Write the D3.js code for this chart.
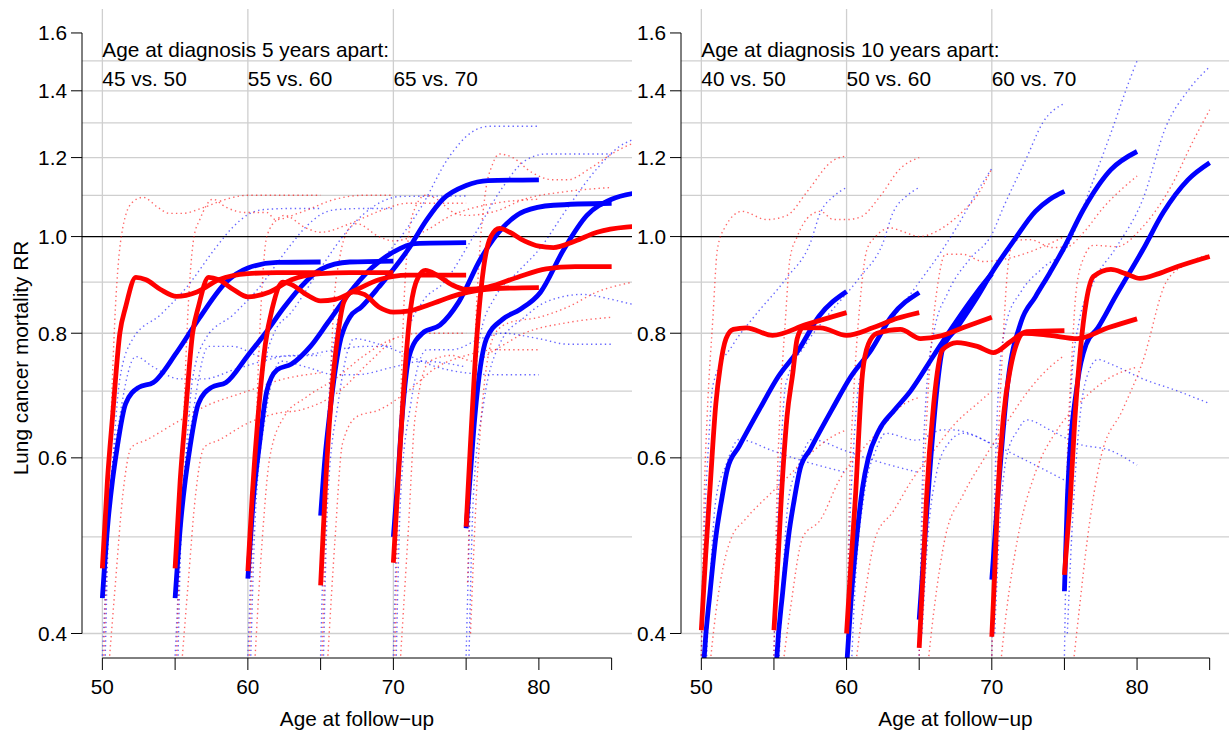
<!DOCTYPE html>
<html><head><meta charset="utf-8">
<script src="https://cdn.jsdelivr.net/npm/d3@7"></script>
<style>body{margin:0;background:#fff}svg text{font-family:"Liberation Sans",Arial,Helvetica,sans-serif;fill:#000}</style>
</head><body><svg id="c" width="1229" height="733"></svg>
<script>
// ---------- axes / labels ----------
const xTicks = [50,55,60,65,70,75,80,85];
const xLabels = [50,60,70,80];
const yTicks = [0.4,0.6,0.8,1.0,1.2,1.4,1.6];
const yGrid = [0.4,0.5,0.6,0.7,0.8,0.9,1.1,1.2,1.3,1.4,1.5];
const xGrid = [50,60,70];
const panelTitles = ["Age at diagnosis 5 years apart:","Age at diagnosis 10 years apart:"];
const compLabels5 = ["45 vs. 50","55 vs. 60","65 vs. 70"];
const compLabels10 = ["40 vs. 50","50 vs. 60","60 vs. 70"];
const compAges = [50,60,70];
const xTitle = "Age at follow\u2212up";
const yTitle = "Lung cancer mortality RR";

// ---------- panel 1 (5 years apart): estimates ----------
const blue5 = [
 [[50,0.434],[50.4,0.52],[50.7,0.57],[51.0,0.612],[51.6,0.68],[52.5,0.706],[53.5,0.714],[55.1,0.765],[56.7,0.83],[58.5,0.90],[60,0.93],[62,0.942],[65,0.943]],
 [[55,0.434],[55.4,0.52],[55.7,0.57],[56.0,0.612],[56.6,0.68],[57.5,0.706],[58.5,0.714],[60,0.76],[61.2,0.80],[62.5,0.85],[63.6,0.889],[65,0.927],[67,0.943],[70,0.945]],
 [[60,0.454],[60.4,0.55],[60.8,0.62],[61.3,0.70],[62,0.735],[63,0.745],[64.3,0.776],[65.5,0.82],[67,0.879],[68.5,0.93],[70,0.965],[71.5,0.984],[75,0.986]],
 [[65,0.525],[65.3,0.6],[65.6,0.66],[66.3,0.78],[67,0.83],[67.8,0.85],[69,0.89],[71,0.97],[72.3,1.04],[73.4,1.09],[75,1.125],[76.5,1.138],[80,1.14]],
 [[70,0.50],[70.3,0.57],[70.6,0.66],[71.1,0.76],[72,0.80],[73.2,0.815],[74.5,0.86],[76,0.95],[77.5,1.02],[79,1.06],[81,1.075],[85,1.08]],
 [[75,0.51],[75.3,0.58],[75.6,0.66],[76.4,0.79],[77.5,0.826],[78.7,0.845],[80.1,0.879],[81.7,0.97],[83.3,1.05],[85,1.09],[86.5,1.105],[88,1.11]]
];
const red5 = [
 [[50,0.465],[50.35,0.57],[50.7,0.66],[51.2,0.80],[51.6,0.85],[52.3,0.91],[53,0.905],[54,0.885],[55.1,0.871],[56.5,0.88],[58,0.905],[60,0.918],[62,0.92],[65,0.92]],
 [[55,0.465],[55.35,0.57],[55.7,0.66],[56.2,0.80],[56.6,0.85],[57.3,0.91],[58,0.905],[59,0.885],[60,0.87],[61.5,0.88],[63,0.905],[65,0.918],[67,0.92],[70,0.92]],
 [[60,0.462],[60.3,0.55],[60.7,0.66],[61.2,0.78],[61.7,0.85],[62.4,0.90],[63,0.895],[64,0.875],[65,0.862],[66,0.865],[67.5,0.885],[69,0.905],[71,0.915],[75,0.915]],
 [[65,0.447],[65.3,0.55],[65.7,0.68],[66.2,0.80],[66.6,0.86],[67.2,0.88],[68,0.875],[69,0.85],[70,0.84],[71,0.842],[72.5,0.855],[74.5,0.875],[77,0.887],[80,0.889]],
 [[70,0.471],[70.3,0.56],[70.7,0.70],[71.2,0.85],[71.7,0.91],[72.2,0.925],[73,0.915],[74,0.895],[75,0.885],[76.5,0.89],[78.5,0.91],[80.5,0.928],[82.5,0.933],[85,0.933]],
 [[75,0.512],[75.3,0.62],[75.7,0.78],[76.2,0.93],[76.7,1.0],[77.3,1.019],[78,1.01],[79,0.99],[80,0.978],[81,0.975],[82.5,0.99],[84,1.01],[86,1.022],[88,1.025]]
];
// panel 1 confidence limits
const blue5Upper = [
 [[50,0.38],[50.4,0.5],[50.8,0.62],[51.2,0.72],[52.1,0.79],[54,0.835],[55.8,0.89],[57.8,0.975],[59,1.023],[60,1.052],[61,1.064],[63,1.067],[65,1.067]],
 [[55,0.38],[55.4,0.5],[55.8,0.62],[56.2,0.72],[57.1,0.79],[59,0.835],[60.8,0.89],[62.8,0.975],[64,1.023],[65,1.052],[66,1.064],[68,1.067],[70,1.067]],
 [[60,0.38],[60.3,0.5],[60.6,0.62],[61,0.72],[61.8,0.80],[63,0.84],[65,0.93],[67,1.02],[69,1.08],[70.5,1.097],[75,1.098]],
 [[65,0.38],[65.3,0.55],[65.6,0.7],[66,0.8],[66.8,0.87],[68.3,0.92],[69.8,0.97],[71.9,1.07],[73.8,1.2],[75.3,1.27],[76.6,1.29],[80,1.29]],
 [[70,0.38],[70.3,0.55],[70.6,0.7],[71,0.8],[72,0.86],[73.5,0.9],[75.5,1.0],[77.5,1.12],[79,1.19],[80.5,1.21],[85,1.21]],
 [[75,0.38],[75.3,0.55],[75.6,0.7],[76,0.8],[77,0.87],[78.5,0.92],[80,0.97],[82,1.07],[84,1.17],[85.5,1.23],[86.4,1.25],[88,1.27]]
];
const blue5Lower = [
 [[50.2,0.38],[50.5,0.545],[51.2,0.66],[52.3,0.758],[53.5,0.74],[55.3,0.72],[57,0.72],[59,0.735],[61,0.75],[63,0.76],[65,0.76]],
 [[55.2,0.38],[55.5,0.545],[56.2,0.66],[57.3,0.776],[59,0.776],[61,0.758],[63.6,0.76],[66,0.77],[68,0.776],[70,0.776]],
 [[60.2,0.38],[60.5,0.52],[61.2,0.66],[62.3,0.75],[64,0.74],[66,0.727],[67.5,0.727],[70,0.74],[72,0.75],[75,0.74]],
 [[65.2,0.38],[65.5,0.55],[66.2,0.68],[67.3,0.79],[69,0.78],[71,0.76],[73,0.74],[75,0.73],[77,0.727],[80,0.727]],
 [[70.2,0.38],[70.5,0.55],[71.2,0.68],[72.3,0.77],[74,0.77],[76,0.79],[77.5,0.80],[80,0.79],[82,0.78],[85,0.78]],
 [[75.2,0.38],[75.5,0.55],[76.2,0.68],[77.3,0.78],[79,0.83],[80.5,0.86],[83,0.875],[85,0.865],[86.5,0.855],[88,0.85]]
];
const red5Upper = [
 [[50.1,0.38],[50.5,0.6],[50.9,0.85],[51.3,1.0],[52,1.08],[52.8,1.095],[53.8,1.07],[54.6,1.055],[55.5,1.055],[57,1.07],[58.5,1.09],[60,1.1],[65,1.1]],
 [[55.1,0.38],[55.5,0.6],[55.9,0.85],[56.3,1.0],[56.7,1.04],[57.6,1.09],[58.5,1.07],[59.9,1.057],[61.3,1.057],[61.9,1.04],[63.6,1.057],[66,1.09],[68,1.1],[70,1.1]],
 [[60.1,0.38],[60.5,0.6],[60.9,0.85],[61.3,1.0],[62,1.04],[62.5,1.05],[64,1.02],[65,1.01],[67,1.03],[69,1.06],[71,1.08],[75,1.08]],
 [[65.1,0.38],[65.5,0.6],[65.9,0.85],[66.3,0.95],[67,1.02],[67.5,1.03],[69,1.0],[70,0.99],[72,1.01],[74,1.05],[77,1.08],[80,1.09]],
 [[70.1,0.38],[70.4,0.6],[70.8,0.9],[71.3,1.05],[72.2,1.1],[73,1.09],[74,1.06],[75,1.05],[77,1.06],[79,1.09],[82,1.11],[85,1.12]],
 [[75.1,0.45],[75.4,0.65],[75.8,0.9],[76.3,1.1],[76.8,1.18],[77.3,1.21],[78.2,1.2],[79.5,1.16],[81,1.14],[82,1.14],[83.5,1.17],[85,1.21],[86.5,1.24],[88,1.25]]
];
const red5Lower = [
 [[50.5,0.38],[50.9,0.45],[51.4,0.55],[52,0.615],[53,0.625],[55,0.65],[57,0.675],[60,0.70],[62.5,0.72],[65,0.73]],
 [[55.5,0.38],[55.9,0.45],[56.4,0.55],[57,0.615],[58,0.625],[60,0.65],[62,0.665],[63.6,0.67],[66.3,0.70],[68,0.74],[70,0.79]],
 [[60.5,0.38],[61,0.5],[61.5,0.6],[62.5,0.66],[64,0.69],[66,0.72],[68,0.76],[70,0.79],[72,0.80],[75,0.80]],
 [[65.5,0.38],[66,0.5],[66.5,0.62],[67.5,0.66],[69,0.67],[71,0.70],[73,0.74],[75,0.76],[77,0.77],[80,0.77]],
 [[70.5,0.38],[71,0.5],[71.5,0.66],[72.5,0.75],[74,0.76],[75.5,0.75],[77,0.77],[79,0.80],[82,0.82],[85,0.83]],
 [[75.3,0.40],[75.7,0.55],[76.2,0.70],[77,0.80],[78,0.82],[80,0.83],[82,0.85],[84,0.88],[86.4,0.90],[88,0.91]]
];

// ---------- panel 2 (10 years apart): estimates ----------
const blue10 = [
 [[50,0.33],[50.2,0.379],[50.6,0.44],[51.0,0.50],[51.4,0.545],[51.8,0.585],[52.6,0.616],[54,0.671],[55.3,0.724],[56.7,0.77],[58.1,0.832],[60,0.881]],
 [[55,0.33],[55.2,0.379],[55.6,0.44],[56.0,0.50],[56.4,0.545],[56.8,0.585],[57.5,0.612],[59,0.671],[60.3,0.724],[61.7,0.77],[63.1,0.832],[65,0.879]],
 [[60,0.37],[60.3,0.43],[60.7,0.50],[61.1,0.56],[61.5,0.60],[62.2,0.638],[63.3,0.67],[64.4,0.70],[66,0.76],[67.5,0.82],[69,0.88],[70,0.918]],
 [[65,0.413],[65.4,0.5],[65.8,0.6],[66.3,0.72],[66.6,0.77],[67.6,0.81],[69,0.87],[70,0.92],[71.5,0.99],[73,1.06],[74,1.09],[75,1.11]],
 [[70,0.453],[70.4,0.545],[71.1,0.714],[72,0.82],[73,0.87],[74,0.92],[74.9,0.97],[76.3,1.064],[78.2,1.167],[80,1.217]],
 [[75,0.441],[75.2,0.545],[75.9,0.714],[76.5,0.78],[77.3,0.81],[78.5,0.87],[80.4,0.97],[81.8,1.057],[83.5,1.14],[85,1.186]]
];
const red10 = [
 [[50,0.403],[50.3,0.48],[50.6,0.56],[51,0.68],[51.3,0.74],[51.7,0.79],[52.2,0.807],[53.1,0.81],[54.9,0.796],[57.2,0.816],[60,0.839]],
 [[55,0.403],[55.3,0.48],[55.5,0.545],[55.9,0.66],[56.3,0.73],[56.6,0.79],[57,0.81],[58.2,0.81],[60,0.796],[61.8,0.81],[63.5,0.828],[65,0.839]],
 [[60,0.40],[60.3,0.47],[60.6,0.545],[61.1,0.73],[61.5,0.78],[62.1,0.80],[63.7,0.807],[65.1,0.79],[66.5,0.795],[68,0.81],[70,0.83]],
 [[65,0.387],[65.3,0.47],[65.5,0.545],[66,0.68],[66.6,0.77],[67.6,0.783],[69,0.776],[70.1,0.765],[71.3,0.785],[72.4,0.803],[75,0.805]],
 [[70,0.397],[70.2,0.46],[70.4,0.545],[70.8,0.66],[71.3,0.74],[71.7,0.78],[72.2,0.80],[74,0.796],[75.9,0.79],[78,0.81],[80,0.827]],
 [[75,0.458],[75.2,0.5],[75.4,0.545],[75.7,0.65],[76.1,0.77],[76.5,0.86],[77,0.912],[78.2,0.927],[79.2,0.918],[80.2,0.908],[81.5,0.918],[82.8,0.933],[85,0.955]]
];
const blue10Upper = [
 [[50,0.38],[50.2,0.5],[50.5,0.62],[50.8,0.71],[52.2,0.78],[53.6,0.83],[55.9,0.91],[57.5,0.985],[58.2,1.057],[59.1,1.097],[60,1.12]],
 [[55,0.38],[55.2,0.5],[55.5,0.62],[55.8,0.71],[57.2,0.78],[58.6,0.83],[60.9,0.91],[62.5,0.985],[63.2,1.057],[64.1,1.097],[65,1.12]],
 [[60,0.38],[60.2,0.5],[60.5,0.62],[60.9,0.72],[62,0.78],[63.5,0.84],[65,0.9],[66.6,0.97],[67.6,1.023],[69,1.11],[70,1.17]],
 [[65,0.38],[65.2,0.55],[65.5,0.7],[66,0.8],[67,0.88],[68.5,0.95],[70,1.005],[70.8,1.07],[72.4,1.2],[73.5,1.3],[75,1.36]],
 [[70,0.38],[70.2,0.55],[70.5,0.72],[71,0.82],[72,0.88],[73.5,0.93],[75.2,0.977],[76.8,1.12],[78.2,1.27],[79.6,1.45],[80,1.5]],
 [[75,0.38],[75.2,0.55],[75.5,0.72],[76,0.82],[77,0.9],[78.6,0.977],[80.4,1.09],[82,1.29],[83.5,1.4],[85,1.48]]
];
const blue10Lower = [
 [[50.3,0.36],[50.6,0.45],[51,0.545],[51.7,0.59],[52.6,0.626],[54.9,0.61],[56.8,0.597],[60,0.58]],
 [[55.3,0.36],[55.6,0.45],[56,0.545],[56.7,0.59],[57.6,0.626],[59.9,0.61],[61.8,0.597],[65,0.58]],
 [[60.3,0.36],[60.6,0.45],[61.2,0.55],[62,0.61],[62.7,0.635],[64.8,0.625],[66.6,0.64],[67.3,0.64],[69.9,0.62]],
 [[65.2,0.40],[65.6,0.5],[66.2,0.58],[67,0.62],[68,0.635],[70,0.62],[72,0.60],[75,0.57]],
 [[70.2,0.40],[70.5,0.5],[71,0.6],[71.8,0.64],[72.4,0.655],[74,0.64],[75.9,0.62],[78.2,0.61],[80,0.59]],
 [[75.2,0.40],[75.5,0.5],[75.9,0.62],[76.5,0.72],[77.3,0.753],[78.2,0.745],[80.4,0.72],[82.8,0.70],[85,0.68]]
];
const red10Upper = [
 [[50,0.38],[50.2,0.55],[50.4,0.66],[50.8,0.83],[51.1,0.97],[51.6,1.02],[52.8,1.06],[54.5,1.04],[55.9,1.05],[57.3,1.11],[59,1.19],[60,1.205]],
 [[55,0.38],[55.2,0.55],[55.4,0.66],[55.8,0.83],[56.1,0.95],[56.6,1.0],[57.5,1.05],[58.2,1.06],[59.1,1.04],[60,1.04],[61,1.047],[62.3,1.097],[63.7,1.17],[65,1.2]],
 [[60,0.38],[60.2,0.55],[60.5,0.7],[60.9,0.85],[61.4,0.97],[62,1.0],[63,1.02],[64,1.01],[65,1.0],[66.6,1.02],[68,1.06],[69,1.1],[70,1.17]],
 [[65,0.38],[65.2,0.5],[65.5,0.65],[65.9,0.8],[66.3,0.9],[66.8,0.96],[68,0.96],[69.4,0.944],[71,0.95],[73,0.97],[75,1.0]],
 [[70,0.38],[70.2,0.5],[70.5,0.65],[70.8,0.8],[71.1,0.93],[71.5,0.99],[72.6,0.993],[74.2,0.975],[75.2,0.977],[76.3,1.009],[77.7,1.07],[80,1.15]],
 [[75,0.45],[75.2,0.6],[75.5,0.75],[75.8,0.88],[76.3,0.95],[77,0.98],[78.6,0.977],[80.4,1.023],[82.3,1.12],[83.9,1.25],[85,1.34]]
];
const red10Lower = [
 [[50.5,0.36],[51,0.42],[51.7,0.48],[52.1,0.50],[53,0.52],[54.9,0.555],[56,0.575],[57.2,0.6],[59,0.63],[60,0.64]],
 [[55.5,0.36],[56.1,0.42],[57,0.5],[58.2,0.52],[59.5,0.57],[61,0.61],[62.3,0.64],[63.7,0.675],[65,0.69]],
 [[60.5,0.36],[61.1,0.42],[62,0.5],[63.2,0.53],[64.5,0.57],[66,0.61],[67.5,0.65],[69,0.68],[70,0.70]],
 [[65.5,0.36],[66,0.42],[66.8,0.5],[68,0.55],[69.5,0.6],[71,0.65],[72.5,0.70],[74,0.74],[75,0.76]],
 [[70.5,0.36],[71,0.42],[71.8,0.5],[73,0.58],[74.5,0.64],[76,0.68],[78,0.72],[80,0.74]],
 [[75.5,0.36],[76,0.42],[76.6,0.5],[77.5,0.6],[79,0.67],[80.4,0.75],[82,0.9],[83.5,0.94],[85,0.96]]
];

// ---------- drawing ----------
const svg = d3.select("#c");
const FS = 20.8;
const panels = [
  {left:82, right:632, title:panelTitles[0], comps:compLabels5, blue:blue5, red:red5, bu:blue5Upper, bl:blue5Lower, ru:red5Upper, rl:red5Lower},
  {left:681, right:1230, title:panelTitles[1], comps:compLabels10, blue:blue10, red:red10, bu:blue10Upper, bl:blue10Lower, ru:red10Upper, rl:red10Lower}
];
const plotTop = 9, plotBottom = 658;

panels.forEach((p, pi) => {
  const x = d3.scaleLinear().domain([48.6, 86.4]).range([p.left, p.right]);
  const y = d3.scaleLog().domain([0.378, 1.691]).range([plotBottom, plotTop]);
  const g = svg.append("g");
  const clipId = "clip" + pi;
  svg.append("clipPath").attr("id", clipId).append("rect")
    .attr("x", p.left).attr("y", plotTop).attr("width", p.right - p.left).attr("height", plotBottom - plotTop);

  // grid
  g.append("g").selectAll("line").data(yGrid).join("line")
    .attr("x1", p.left).attr("x2", p.right).attr("y1", d => y(d)).attr("y2", d => y(d))
    .attr("stroke", "#cfcfcf").attr("stroke-width", 1.3);
  g.append("g").selectAll("line").data(xGrid).join("line")
    .attr("x1", d => x(d)).attr("x2", d => x(d)).attr("y1", plotTop).attr("y2", plotBottom)
    .attr("stroke", "#cfcfcf").attr("stroke-width", 1.3);
  g.append("line").attr("x1", p.left).attr("x2", p.right).attr("y1", y(1)).attr("y2", y(1))
    .attr("stroke", "#000").attr("stroke-width", 1.3);

  const line = d3.line().x(d => x(d[0])).y(d => y(d[1])).curve(d3.curveMonotoneX);
  const cg = g.append("g").attr("clip-path", `url(#${clipId})`);

  const dotted = (arr, col) => cg.append("g").selectAll("path").data(arr).join("path")
    .attr("d", line).attr("fill", "none").attr("stroke", col).attr("stroke-opacity", 0.6)
    .attr("stroke-width", 1.4).attr("stroke-dasharray", "1.4,3.2");
  dotted(p.bu, "#0000ff"); dotted(p.bl, "#0000ff");
  dotted(p.ru, "#ff0000"); dotted(p.rl, "#ff0000");

  cg.append("g").selectAll("path").data(p.blue).join("path")
    .attr("d", line).attr("fill", "none").attr("stroke", "#0000ff").attr("stroke-width", 4.8);
  cg.append("g").selectAll("path").data(p.red).join("path")
    .attr("d", line).attr("fill", "none").attr("stroke", "#ff0000").attr("stroke-width", 4.8);

  // y axis
  const ya = g.append("g");
  ya.append("line").attr("x1", p.left).attr("x2", p.left).attr("y1", y(0.4)).attr("y2", y(1.6)).attr("stroke", "#000");
  ya.append("g").selectAll("line").data(yTicks).join("line").attr("x1", p.left - 11).attr("x2", p.left)
    .attr("y1", d => y(d)).attr("y2", d => y(d)).attr("stroke", "#000");
  ya.append("g").selectAll("text").data(yTicks).join("text").attr("x", p.left - 15).attr("y", d => y(d))
    .attr("dy", "0.36em").attr("text-anchor", "end").attr("font-size", FS).text(d => d.toFixed(1));

  // x axis
  const xa = g.append("g");
  xa.append("line").attr("x1", x(50)).attr("x2", x(85)).attr("y1", plotBottom).attr("y2", plotBottom).attr("stroke", "#000");
  xa.append("g").selectAll("line").data(xTicks).join("line").attr("x1", d => x(d)).attr("x2", d => x(d))
    .attr("y1", plotBottom).attr("y2", plotBottom + 12).attr("stroke", "#000");
  xa.append("g").selectAll("text").data(xLabels).join("text").attr("x", d => x(d)).attr("y", 694)
    .attr("text-anchor", "middle").attr("font-size", FS).text(d => d);
  g.append("text").attr("x", (p.left + p.right) / 2).attr("y", 726).attr("text-anchor", "middle")
    .attr("font-size", FS).text(xTitle);

  // annotations
  g.append("text").attr("x", x(50)).attr("y", 57).attr("font-size", FS).text(p.title);
  g.append("g").selectAll("text").data(p.comps).join("text").attr("x", (d, i) => x(compAges[i])).attr("y", 86)
    .attr("font-size", FS).text(d => d);

  if (pi === 0) {
    g.append("text").attr("transform", "translate(28,358) rotate(-90)").attr("text-anchor", "middle")
      .attr("font-size", FS).text(yTitle);
  }
});
</script>
</body></html>
